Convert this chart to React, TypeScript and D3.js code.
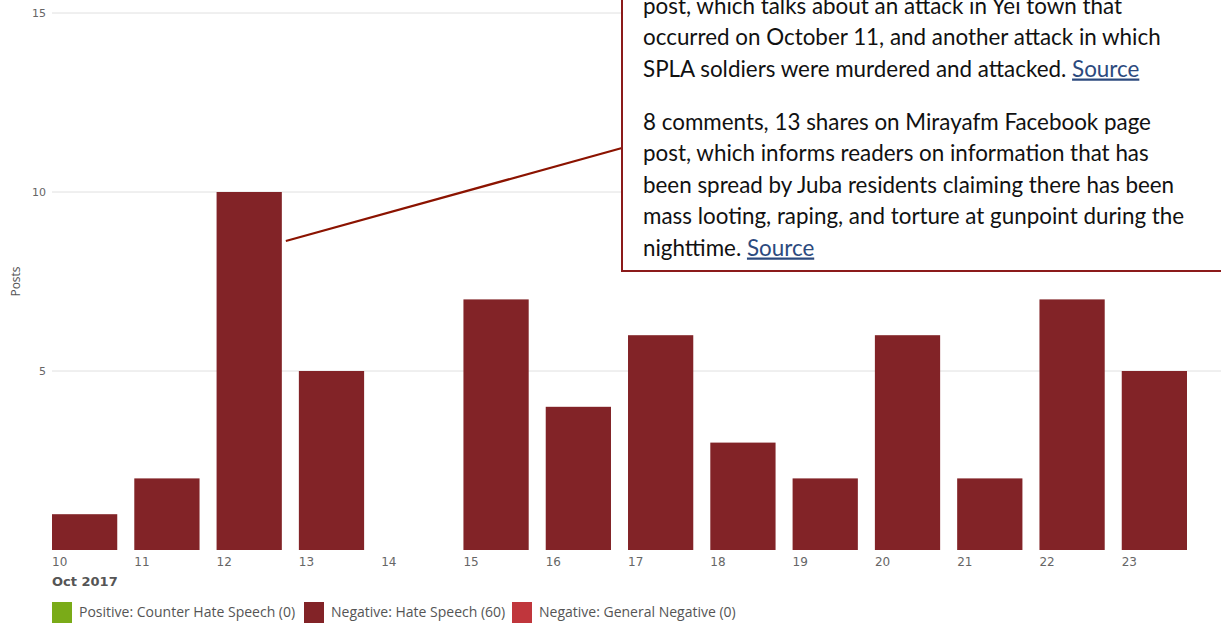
import { useEffect, useRef } from "react"
import * as d3 from "d3"

const days = ["10", "11", "12", "13", "14", "15", "16", "17", "18", "19", "20", "21", "22", "23"]
const hateSpeech = [1, 2, 10, 5, 0, 7, 4, 6, 3, 2, 6, 2, 7, 5]
const yTicks = [5, 10, 15]

const legendItems = [
  { label: "Positive: Counter Hate Speech (0)", color: "#7aab18" },
  { label: "Negative: Hate Speech (60)", color: "#822327" },
  { label: "Negative: General Negative (0)", color: "#c0363c" },
]

const noteLines = [
  { text: "post, which talks about an attack in Yei town that", link: false },
  { text: "occurred on October 11, and another attack in which", link: false },
  { text: "SPLA soldiers were murdered and attacked. ", link: true },
  { text: "", link: false },
  { text: "8 comments, 13 shares on Mirayafm Facebook page", link: false },
  { text: "post, which informs readers on information that has", link: false },
  { text: "been spread by Juba residents claiming there has been", link: false },
  { text: "mass looting, raping, and torture at gunpoint during the", link: false },
  { text: "nighttime. ", link: true },
]

export default function App() {
  const svgRef = useRef(null)

  useEffect(() => {
    document.body.style.margin = "0"
    if (!svgRef.current) return
    const svg = d3.select(svgRef.current)
    svg.selectAll("*").remove()

    const width = 1221
    const height = 623

    const x = d3.scaleBand().domain(days).range([52, 1187]).paddingInner(0.207).paddingOuter(0)
    const y = d3.scaleLinear().domain([0, 15]).range([550, 13])

    // grid
    svg
      .append("g")
      .selectAll("line")
      .data(yTicks)
      .enter()
      .append("line")
      .attr("x1", 52)
      .attr("x2", width)
      .attr("y1", (d) => y(d))
      .attr("y2", (d) => y(d))
      .attr("stroke", "#e0e0e0")
      .attr("stroke-width", 1)

    svg
      .append("g")
      .selectAll("text")
      .data(yTicks)
      .enter()
      .append("text")
      .attr("x", 46)
      .attr("y", (d) => y(d) + 4)
      .attr("text-anchor", "end")
      .attr("font-family", "DejaVu Sans")
      .attr("font-size", "11px")
      .attr("fill", "#666")
      .text((d) => d)

    svg
      .append("text")
      .attr("transform", `translate(20, ${(y(15) + y(0)) / 2}) rotate(-90)`)
      .attr("text-anchor", "middle")
      .attr("font-family", "Open Sans")
      .attr("font-size", "12px")
      .attr("fill", "#555")
      .text("Posts")

    // bars
    svg
      .append("g")
      .selectAll("rect")
      .data(hateSpeech)
      .enter()
      .append("rect")
      .attr("x", (_, i) => x(days[i]))
      .attr("y", (d) => y(d))
      .attr("width", x.bandwidth())
      .attr("height", (d) => y(0) - y(d))
      .attr("fill", "#822327")

    // x labels
    svg
      .append("g")
      .selectAll("text")
      .data(days)
      .enter()
      .append("text")
      .attr("x", (d) => x(d))
      .attr("y", 566)
      .attr("font-family", "DejaVu Sans")
      .attr("font-size", "12px")
      .attr("fill", "#666")
      .text((d) => d)

    svg
      .append("text")
      .attr("x", 52)
      .attr("y", 586)
      .attr("font-family", "DejaVu Sans")
      .attr("font-weight", "bold")
      .attr("font-size", "13px")
      .attr("fill", "#555")
      .text("Oct 2017")

    // legend
    const legendX = [52, 304, 512]
    legendItems.forEach((d, i) => {
      const lg = svg.append("g").attr("transform", `translate(${legendX[i]}, 602)`)
      lg.append("rect").attr("width", 20).attr("height", 21).attr("fill", d.color)
      lg.append("text")
        .attr("x", 27)
        .attr("y", 15)
        .attr("font-family", "Open Sans")
        .attr("font-size", "14px")
        .attr("fill", "#555")
        .text(d.label)
    })

    // annotation
    svg
      .append("line")
      .attr("x1", x("12") + x.bandwidth() + 4)
      .attr("y1", 241)
      .attr("x2", 622)
      .attr("y2", 148)
      .attr("stroke", "#8b1300")
      .attr("stroke-width", 2.2)

    svg
      .append("rect")
      .attr("x", 622)
      .attr("y", -10)
      .attr("width", 700)
      .attr("height", 281)
      .attr("fill", "#fff")
      .attr("stroke", "#8b1a1a")
      .attr("stroke-width", 2)

    const note = svg
      .append("text")
      .attr("font-family", "Lato")
      .attr("font-size", "22.4px")
      .attr("fill", "#111")

    const baselines = [13.5, 45, 76.5, 0, 129.5, 161, 192.5, 224, 255.5]
    noteLines.forEach((l, i) => {
      if (!l.text) return
      note.append("tspan").attr("x", 643).attr("y", baselines[i]).text(l.text)
      if (l.link) {
        note
          .append("tspan")
          .attr("fill", "#2c4a7e")
          .attr("text-decoration", "underline")
          .text("Source")
      }
    })

    svg.attr("width", width).attr("height", height)
  }, [])

  return (
    <div>
      <svg ref={svgRef} style={{ display: "block" }}></svg>
    </div>
  )
}
